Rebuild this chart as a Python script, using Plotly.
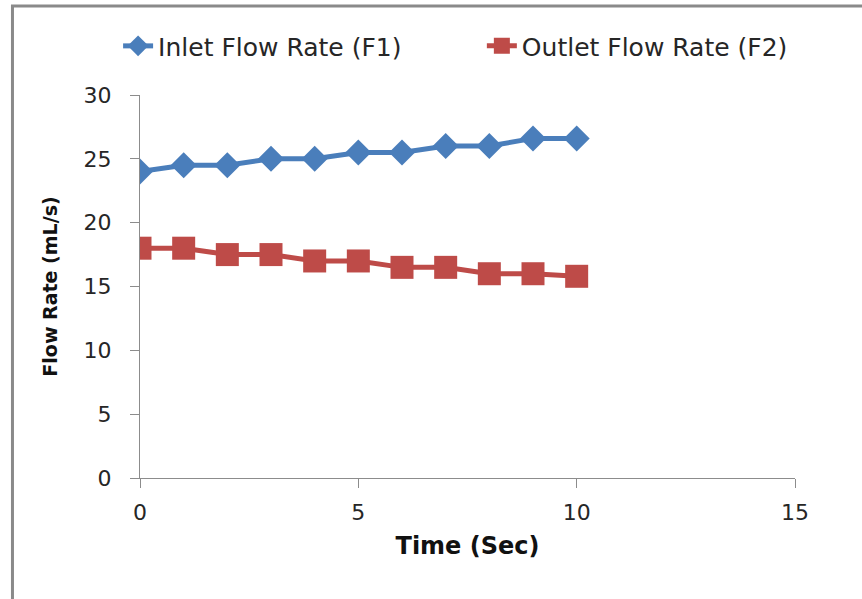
import plotly.graph_objects as go

# Sampling times (s)
time_sec = [0, 1, 2, 3, 4, 5, 6, 7, 8, 9, 10]

# Measured flow rates (mL/s)
inlet_f1 = [24.0, 24.5, 24.5, 25.0, 25.0, 25.5, 25.5, 26.0, 26.0, 26.6, 26.6]
outlet_f2 = [18.0, 18.0, 17.5, 17.5, 17.0, 17.0, 16.5, 16.5, 16.0, 16.0, 15.8]

series_names = ["Inlet Flow Rate (F1)", "Outlet Flow Rate (F2)"]

x_ticks = [0, 5, 10, 15]
y_ticks = [0, 5, 10, 15, 20, 25, 30]

BLUE = "#4A7EBB"
RED = "#BE4B48"
AXIS = "#8C8C8C"
TEXT = "#262626"

fig = go.Figure()
fig.add_trace(go.Scatter(
    x=time_sec, y=inlet_f1, name=series_names[0], mode="lines+markers",
    line=dict(color=BLUE, width=5),
    marker=dict(symbol="diamond", size=20, color=BLUE),
    legend="legend",
))
fig.add_trace(go.Scatter(
    x=time_sec, y=outlet_f2, name=series_names[1], mode="lines+markers",
    line=dict(color=RED, width=5),
    marker=dict(symbol="square", size=23, color=RED),
    legend="legend2",
))

axis_common = dict(
    showgrid=False, zeroline=False, showline=True, linecolor=AXIS, linewidth=1,
    ticks="outside", ticklen=9, tickcolor=AXIS, tickwidth=1,
    tickfont=dict(family="DejaVu Sans", size=22, color=TEXT),
)

legend_common = dict(
    orientation="h", xref="container", yref="container",
    xanchor="left", y=0.923, yanchor="middle",
    bgcolor="rgba(0,0,0,0)",
    font=dict(family="DejaVu Sans", size=25, color=TEXT),
)

fig.update_layout(
    width=862, height=599,
    margin=dict(l=140, r=67, t=95, b=121, autoexpand=False),
    paper_bgcolor="white", plot_bgcolor="white",
    showlegend=True,
    legend=dict(x=0.137, **legend_common),
    legend2=dict(x=0.559, **legend_common),
    xaxis=dict(
        range=[0, 15], tickvals=x_ticks, ticklabelstandoff=6,
        title=dict(text="Time (Sec)", standoff=12,
                   font=dict(family="DejaVu Sans", size=24, color="#111", weight="bold")),
        **axis_common,
    ),
    yaxis=dict(
        range=[0, 30], tickvals=y_ticks, ticklabelstandoff=14,
        title=dict(text="Flow Rate (mL/s)", standoff=20,
                   font=dict(family="DejaVu Sans", size=19, color="#111", weight="bold")),
        **axis_common,
    ),
    shapes=[
        # chart-area frame (its right and bottom edges fall outside the view)
        dict(type="rect", xref="paper", yref="paper",
             x0=-0.1947, x1=1.25, y0=-0.40, y1=1.2324,
             line=dict(color="#8A8A8A", width=3), layer="below"),
    ],
)

fig.write_html("out.html")
